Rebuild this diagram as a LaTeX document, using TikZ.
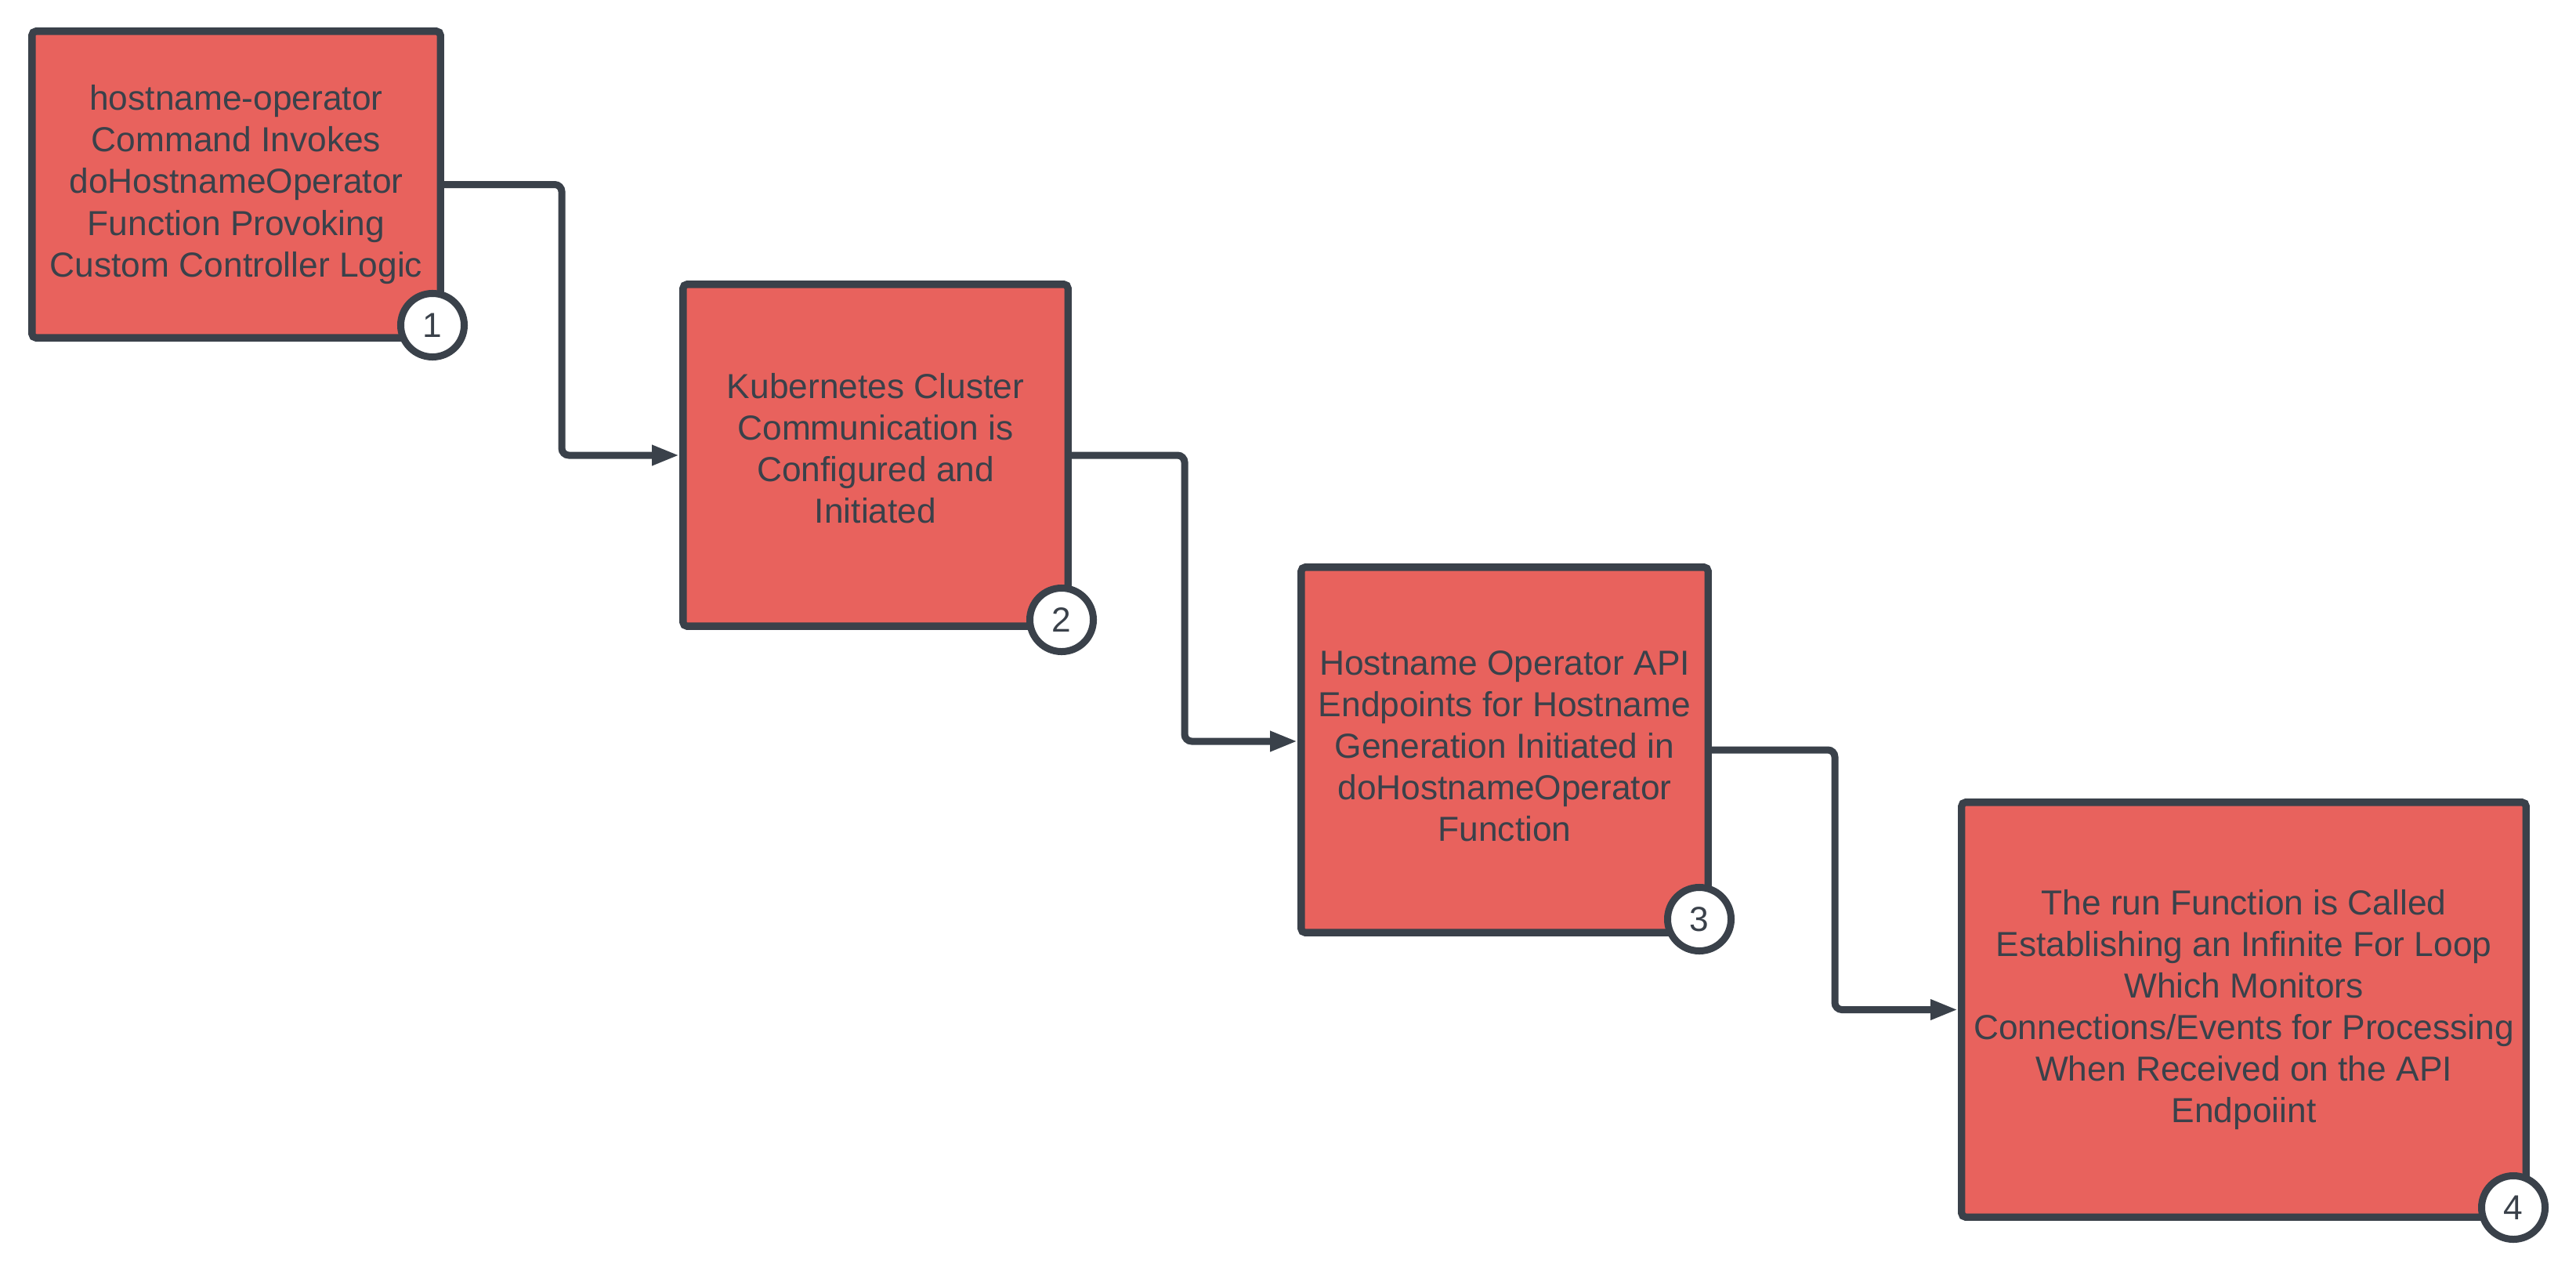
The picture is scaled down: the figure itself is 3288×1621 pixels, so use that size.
\documentclass[tikz,border=0pt]{standalone}
\usepackage{fontspec}
\setmainfont{Liberation Sans}
\usetikzlibrary{arrows.meta,calc}
\definecolor{ink}{HTML}{3A414A}
\definecolor{boxred}{HTML}{E8625D}
% invisible strut below the last line, nudging a centred label upward
\newcommand\labellift[1]{\rule[-#1]{0pt}{#1}}
\begin{document}
\begin{tikzpicture}[x=0.01cm,y=-0.01cm,
  stepbox/.style={draw=ink, fill=boxred, line width=0.093cm, rounded corners=0.05cm,
    align=center, text=ink, inner sep=0pt,
    font=\fontsize{12.6}{15.1}\selectfont},
  badge/.style={circle, draw=ink, fill=white, line width=0.09cm, minimum size=0.81cm,
    inner sep=0pt, text=ink, font=\fontsize{12.6}{15}\selectfont},
  conn/.style={draw=ink, line width=0.09cm, rounded corners=0.09cm,
    -{Triangle[length=0.35cm,width=0.24cm]}}
]
% canvas
\fill[white] (0,0) rectangle (3288,1621);
\useasboundingbox (0,0) rectangle (3288,1621);

% process steps
\node[stepbox, minimum width=5.21cm, minimum height=3.91cm] (b1) at (301.5,235.5)
  {hostname-operator\\Command Invokes\\doHostnameOperator\\Function Provoking\\Custom Controller Logic};
\node[stepbox, minimum width=4.91cm, minimum height=4.36cm] (b2) at (1117.5,581)
  {Kubernetes Cluster\\Communication is\\Configured and\\Initiated\labellift{5pt}};
\node[stepbox, minimum width=5.19cm, minimum height=4.66cm] (b3) at (1920.5,957)
  {Hostname Operator API\\Endpoints for Hostname\\Generation Initiated in\\doHostnameOperator\\Function\labellift{3pt}};
\node[stepbox, minimum width=7.20cm, minimum height=5.29cm] (b4) at (2864,1288.5)
  {The run Function is Called\\Establishing an Infinite For Loop\\Which Monitors\\Connections/Events for Processing\\When Received on the API\\Endpoiint};

% connectors
\coordinate (m1) at ($(b1.east)!0.5!(b2.west)$);
\coordinate (m2) at ($(b2.east)!0.5!(b3.west)$);
\coordinate (m3) at ($(b3.east)!0.5!(b4.west)$);
\draw[conn] (b1.east) -| (m1) |- (b2.west);
\draw[conn] (b2.east) -| (m2) |- ([yshift=0.11cm]b3.west);
\draw[conn] (b3.east) -| (m3) |- (b4.west);

% step numbers
\node[badge] (n1) at (552,415) {1};
\node[badge] (n2) at (1355,791) {2};
\node[badge] (n3) at (2169,1173) {3};
\node[badge] (n4) at (3208,1541) {4};
\end{tikzpicture}
\end{document}
